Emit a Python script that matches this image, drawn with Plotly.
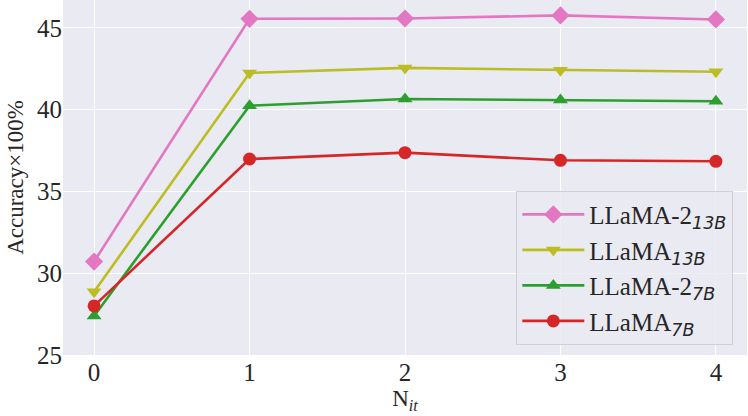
import plotly.graph_objects as go

x_vals = [0, 1, 2, 3, 4]
llama2_13b = [30.71, 45.55, 45.57, 45.76, 45.51]
llama_13b = [28.86, 42.24, 42.55, 42.41, 42.31]
llama2_7b = [27.39, 40.24, 40.65, 40.59, 40.51]
llama_7b = [28.0, 36.98, 37.37, 36.90, 36.84]

SERIF = "Liberation Serif, Times New Roman, serif"

def sub(s):
    return "<sub><span style='font-family:DejaVu Sans'><i>" + s + "</i></span></sub>"

series = [
    ("LLaMA-2" + sub("13B"), llama2_13b, "#e377c2", "diamond", 14),
    ("LLaMA" + sub("13B"), llama_13b, "#bcbd22", "triangle-down", 13),
    ("LLaMA-2" + sub("7B"), llama2_7b, "#2ca02c", "triangle-up", 13),
    ("LLaMA" + sub("7B"), llama_7b, "#d62728", "circle", 13),
]

fig = go.Figure()
for name, ys, color, sym, size in series:
    fig.add_trace(go.Scatter(
        x=x_vals, y=ys, name=name, mode="lines+markers",
        line=dict(color=color, width=2.6),
        marker=dict(symbol=sym, size=size, color=color, line=dict(width=0)),
    ))

fig.update_layout(
    width=748, height=416,
    margin=dict(l=63, r=1, t=0, b=61, autoexpand=False),
    paper_bgcolor="white",
    plot_bgcolor="#EAEAF2",
    font=dict(family=SERIF, size=25, color="#262626"),
    legend=dict(
        x=0.98, y=0.463, xanchor="right", yanchor="top",
        bgcolor="rgba(234,234,242,0.8)",
        bordercolor="#d0d0d8", borderwidth=1,
        font=dict(family=SERIF, size=25, color="#262626"),
        tracegroupgap=0, itemwidth=62,
    ),
    showlegend=True,
)
fig.update_xaxes(
    range=[-0.2, 4.2], tickvals=x_vals, ticktext=[str(v) for v in x_vals],
    showgrid=True, gridcolor="white", gridwidth=1.2, zeroline=False,
    showline=False, ticks="", automargin=False,
    title=dict(text="N<sub><i>it</i></sub>", standoff=0, font=dict(family=SERIF, size=23)),
    tickfont=dict(family=SERIF, size=25),
)
fig.update_yaxes(
    range=[25, 46.7], tickvals=[25, 30, 35, 40, 45],
    showgrid=True, gridcolor="white", gridwidth=1.2, zeroline=False,
    showline=False, ticks="", automargin=False,
    title=dict(text="Accuracy×100%", standoff=6, font=dict(family=SERIF, size=23)),
    tickfont=dict(family=SERIF, size=25),
)

fig.write_html("out.html", config={"displayModeBar": False},
               post_script="document.body.style.margin='0';")
